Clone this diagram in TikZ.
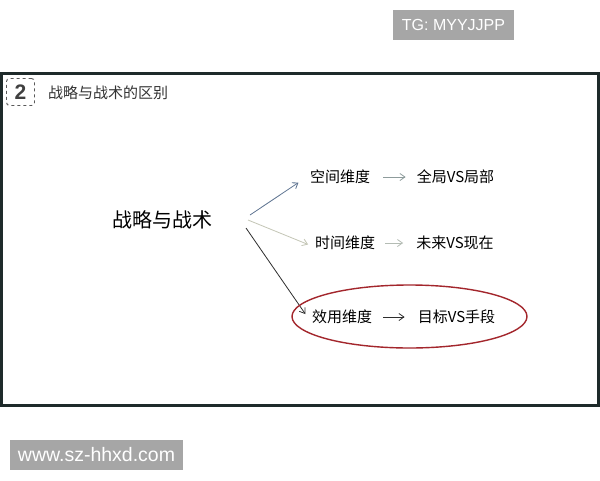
\documentclass[tikz,border=0pt]{standalone}
\usepackage{fontspec}
\setmainfont{Liberation Sans}
\newfontfamily\cjk{Noto Sans CJK SC}
\usetikzlibrary{arrows.meta,shapes.geometric}
\definecolor{frame}{HTML}{1E2A2A}
\definecolor{wm}{HTML}{A6A6A6}
\definecolor{a1}{HTML}{5C7290}
\definecolor{a2}{HTML}{C4C6B6}
\definecolor{a3}{HTML}{2E2E2E}
\definecolor{s1}{HTML}{8E9C9C}
\definecolor{s2}{HTML}{B4BCB4}
\definecolor{ered}{HTML}{A3262C}
\tikzset{
  wmbox/.style={fill=wm,text=white,inner sep=0pt,anchor=center},
  lbl/.style={font=\cjk\fontsize{15}{15}\selectfont,text=black,inner sep=3pt},
  barb/.style={-{Straight Barb[length=5pt,width=7pt]},line width=0.8pt},
}
\begin{document}
\begin{tikzpicture}[x=1pt,y=-1pt]
\useasboundingbox (0,0) rectangle (600,480);
\fill[white] (0,0) rectangle (600,480);
% watermarks
\node[wmbox,minimum width=121pt,minimum height=30pt,font=\fontsize{16}{16}\selectfont] (tg) at (453.5,25) {TG: MYYJJPP};
\node[wmbox,minimum width=173pt,minimum height=30pt,font=\fontsize{19.5}{19.5}\selectfont] (www) at (96.5,455) {www.sz-hhxd.com};
% frame
\draw[frame,line width=3pt] (1.5,73.5) rectangle (598.5,405.5);
% header
\node[draw=black!65,dashed,rounded corners=3pt,line width=0.9pt,minimum width=28pt,minimum height=27pt,inner sep=0pt,
  font=\fontsize{21}{21}\selectfont\bfseries,text=black!75] (num) at (20.5,92) {2};
\node[anchor=west,inner sep=0pt,font=\cjk\fontsize{15}{15}\selectfont,text=black!80] (title) at (48,93) {战略与战术的区别};
% main
\node[font=\cjk\fontsize{20}{20}\selectfont,inner sep=0pt] (main) at (162.5,220) {战略与战术};
\coordinate (o1) at (250,215);
\coordinate (o2) at (248,220);
\coordinate (o3) at (246,228);
\node[lbl] (k1) at (340,177) {空间维度};
\node[lbl] (k2) at (345,243) {时间维度};
\node[lbl] (k3) at (342,317) {效用维度};
\node[lbl] (v1) at (455.5,177) {全局VS局部};
\node[lbl] (v2) at (455,243) {未来VS现在};
\node[lbl] (v3) at (456.5,317) {目标VS手段};
\draw[barb,a1,shorten >=10pt] (o1) -- (k1.west);
\draw[barb,a2,shorten >=4pt] (o2) -- ([yshift=-3pt]k2.west);
\draw[barb,a3,shorten >=6pt] (o3) -- ([yshift=-2pt]k3.west);
\draw[barb,s1,shorten <=10pt,shorten >=8pt] (k1.east) -- (v1.west);
\draw[barb,s2,shorten <=7pt,shorten >=10pt] (k2.east) -- (v2.west);
\draw[barb,a3,shorten <=8pt,shorten >=10pt] (k3.east) -- (v3.west);
% highlight
\node[draw=ered,line width=1.4pt,ellipse,minimum width=235pt,minimum height=63pt,inner sep=0pt] (hl) at (409.5,316.5) {};
\end{tikzpicture}
\end{document}
